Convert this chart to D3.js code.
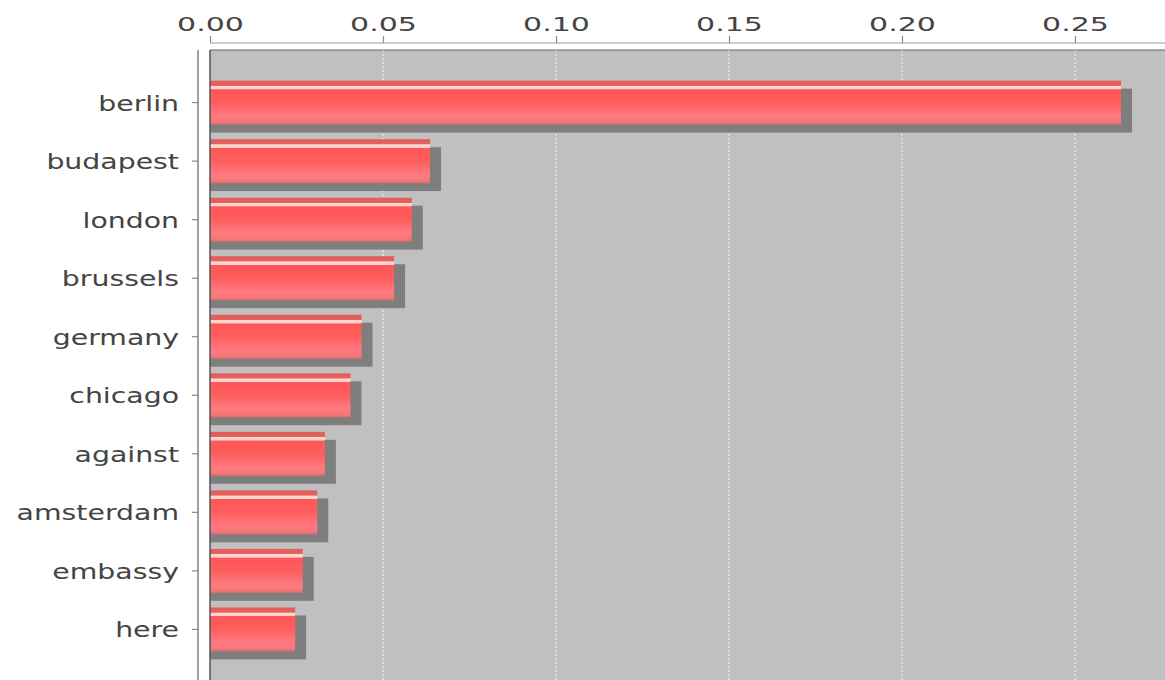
<!DOCTYPE html>
<html>
<head>
<meta charset="utf-8">
<script src="https://cdn.jsdelivr.net/npm/d3@7"></script>
<style>
  html, body { margin: 0; padding: 0; background: #ffffff; }
  svg { display: block; }
</style>
</head>
<body>
<svg id="chart" width="1165" height="680"></svg>
<script>
const categories = ["berlin", "budapest", "london", "brussels", "germany", "chicago", "against", "amsterdam", "embassy", "here"];
const values = [0.2633, 0.0636, 0.0583, 0.0532, 0.0438, 0.0406, 0.0332, 0.0310, 0.0268, 0.0246];
const tickValues = [0.00, 0.05, 0.10, 0.15, 0.20, 0.25];

const W = 1165, H = 680;
const plot = { left: 210, top: 50, right: 1165, bottom: 680 };

const svg = d3.select("#chart");

const x = d3.scaleLinear().domain([0, 0.25]).range([210, 1075]);
const y = d3.scaleBand().domain(categories).range([66, 666]).paddingInner(0.25).paddingOuter(0.25);

const defs = svg.append("defs");
const grad = defs.append("linearGradient").attr("id", "barGrad")
  .attr("x1", 0).attr("y1", 0).attr("x2", 0).attr("y2", 1);
[
  [0.00, "#e25c5c"], [0.11, "#e4605e"], [0.125, "#ffd8d0"], [0.19, "#ffd4cc"],
  [0.205, "#ff5656"], [0.5, "#ff5e5e"], [0.8, "#ff7a80"], [0.93, "#f5787a"], [1.0, "#e26c6c"]
].forEach(([o, c]) => grad.append("stop").attr("offset", o).attr("stop-color", c));

defs.append("clipPath").attr("id", "plotClip").append("rect")
  .attr("x", plot.left).attr("y", plot.top)
  .attr("width", plot.right - plot.left).attr("height", plot.bottom - plot.top);

// plot background
svg.append("rect")
  .attr("x", plot.left).attr("y", plot.top)
  .attr("width", plot.right - plot.left).attr("height", plot.bottom - plot.top)
  .attr("fill", "#c0c0c0");

// gridlines
svg.append("g").selectAll("line").data(tickValues.filter(v => v > 0)).join("line")
  .attr("x1", d => x(d)).attr("x2", d => x(d))
  .attr("y1", plot.top).attr("y2", plot.bottom)
  .attr("stroke", "#ffffff").attr("stroke-width", 1)
  .attr("stroke-dasharray", "2,2").attr("opacity", 0.9);

// bars
const data = categories.map((c, i) => ({ c, v: values[i] }));
const bars = svg.append("g").attr("clip-path", "url(#plotClip)");
bars.selectAll("rect.shadow").data(data).join("rect").attr("class", "shadow")
  .attr("x", x(0))
  .attr("y", d => y(d.c) + 8)
  .attr("width", d => x(d.v) - x(0) + 11)
  .attr("height", y.bandwidth())
  .attr("fill", "#7e7e7e");
bars.selectAll("rect.bar").data(data).join("rect").attr("class", "bar")
  .attr("x", x(0))
  .attr("y", d => y(d.c))
  .attr("width", d => x(d.v) - x(0))
  .attr("height", y.bandwidth())
  .attr("fill", "url(#barGrad)");

// plot borders (left and top)
svg.append("line").attr("x1", plot.left).attr("x2", plot.left).attr("y1", plot.top).attr("y2", plot.bottom)
  .attr("stroke", "#555").attr("stroke-width", 1.5);
svg.append("line").attr("x1", plot.left).attr("x2", plot.right).attr("y1", plot.top).attr("y2", plot.top)
  .attr("stroke", "#666").attr("stroke-width", 1.2);

// top axis
const xAxis = d3.axisTop(x).tickValues(tickValues).tickFormat(d3.format(".2f"))
  .tickSize(7).tickSizeOuter(0).tickPadding(5);
const gx = svg.append("g").attr("transform", "translate(0,43)").call(xAxis);
gx.select(".domain").remove();
gx.append("line").attr("x1", plot.left).attr("x2", plot.right).attr("y1", 0).attr("y2", 0)
  .attr("stroke", "#9a9a9a").attr("stroke-width", 1.2);
gx.selectAll(".tick line").attr("stroke", "#888").attr("stroke-width", 1.2);
gx.selectAll(".tick text")
  .attr("fill", "#444")
  .style("font-family", "'DejaVu Sans', sans-serif")
  .style("font-size", "20px")
  .attr("transform", "scale(1.5,1)");

// left axis
const yAxis = d3.axisLeft(y).tickSize(6).tickSizeOuter(0).tickPadding(13);
const gy = svg.append("g").attr("transform", "translate(198,0)").call(yAxis);
gy.select(".domain").remove();
gy.append("line").attr("x1", 0).attr("x2", 0).attr("y1", plot.top).attr("y2", plot.bottom)
  .attr("stroke", "#808080").attr("stroke-width", 1.5);
gy.selectAll(".tick line").attr("stroke", "#888").attr("stroke-width", 1.2);
gy.selectAll(".tick text")
  .attr("fill", "#444")
  .style("font-family", "'DejaVu Sans', sans-serif")
  .style("font-size", "21px")
  .attr("x", -19 / 1.35)
  .attr("dy", "0.38em")
  .attr("transform", "scale(1.35,1)");
</script>
</body>
</html>
